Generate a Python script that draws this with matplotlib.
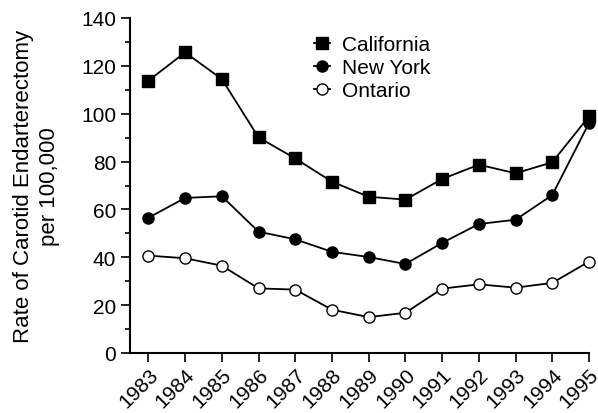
import matplotlib.pyplot as plt
from matplotlib.ticker import MultipleLocator

years = [1983, 1984, 1985, 1986, 1987, 1988, 1989, 1990, 1991, 1992, 1993, 1994, 1995]
california = [113.8, 125.6, 114.5, 90.1, 81.3, 71.6, 65.3, 64.1, 72.7, 78.7, 75.1, 79.7, 98.9]
new_york = [56.5, 64.8, 65.5, 50.7, 47.5, 42.3, 40.1, 37.2, 46.0, 53.9, 55.7, 66.0, 96.1]
ontario = [40.7, 39.6, 36.5, 27.0, 26.5, 18.1, 15.0, 16.8, 26.9, 28.7, 27.3, 29.3, 38.2]

plt.rcParams['font.family'] = ['Liberation Sans', 'DejaVu Sans']
plt.rcParams['font.size'] = 15

fig = plt.figure(figsize=(5.98, 4.14), dpi=100)
ax = fig.add_axes([130 / 598, 60 / 414, 459 / 598, 335 / 414])

ax.plot(years, california, color='black', lw=1.3, marker='s', ms=8,
        mfc='black', mec='black', label='California', clip_on=False)
ax.plot(years, new_york, color='black', lw=1.3, marker='o', ms=8,
        mfc='black', mec='black', label='New York', clip_on=False)
ax.plot(years, ontario, color='black', lw=1.3, marker='o', ms=8,
        mfc='white', mec='black', mew=1.0, label='Ontario', clip_on=False)

ax.set_xlim(1982.5, 1995)
ax.set_ylim(0, 140)
ax.yaxis.set_major_locator(MultipleLocator(20))
ax.yaxis.set_minor_locator(MultipleLocator(10))
ax.set_xticks(years)
ax.set_xticklabels([str(y) for y in years], rotation=45, ha='right',
                   rotation_mode='anchor')

for s in ['top', 'right']:
    ax.spines[s].set_visible(False)
for s in ['left', 'bottom']:
    ax.spines[s].set_linewidth(1.5)
ax.tick_params(which='major', direction='out', length=6.5, width=1.2)
ax.tick_params(which='minor', direction='out', length=3.5, width=1.2)
ax.tick_params(axis='x', pad=1.5)

ax.set_ylabel('Rate of Carotid Endarterectomy\nper 100,000', labelpad=15,
              linespacing=1.3, fontsize=16)

ax.legend(loc='upper left', bbox_to_anchor=(0.400, 0.949), frameon=False,
          handlelength=0.8, handletextpad=0.54, labelspacing=0.2,
          borderpad=0, borderaxespad=0, fontsize=15)

fig.savefig('out.png', dpi=100)
